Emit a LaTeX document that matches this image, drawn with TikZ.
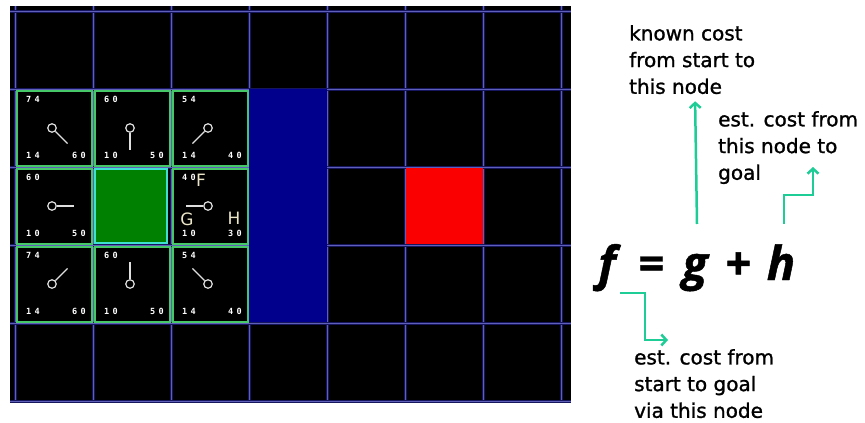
\documentclass[tikz,border=0pt]{standalone}
\usepackage{fontspec}
\setmainfont{DejaVu Sans}
\newfontfamily\formulafont{Open Sans}
\newfontfamily\pixelfont[LetterSpace=40]{DejaVu Sans Mono}
\usetikzlibrary{arrows.meta}
\definecolor{wallblue}{RGB}{0,0,140}
\definecolor{goalred}{RGB}{250,0,0}
\definecolor{startgreen}{RGB}{0,128,0}
\definecolor{startedge}{RGB}{64,224,208}
\definecolor{openedge}{RGB}{70,200,105}
\definecolor{gridglow}{RGB}{22,22,95}
\definecolor{gridblue}{RGB}{95,95,185}
\definecolor{costline}{RGB}{30,205,150}
\definecolor{tagcream}{RGB}{235,230,200}

\begin{document}
\begin{tikzpicture}[x=1pt,y=-1pt,
    gridline/.style={gridblue,line width=0.8pt,preaction={draw=gridglow,line width=3pt}},
    opencell/.style={openedge,line width=2pt},
    startcell/.style={fill=startgreen,draw=startedge,line width=2.5pt},
    digits/.style={inner sep=0,text=white,font=\pixelfont\bfseries\fontsize{8.5}{8.5}\selectfont},
    ring/.style={circle,draw=white!75!gray,line width=1.2pt,minimum size=8.5pt,inner sep=0},
    pin/.style={white!75!gray,line width=1.2pt},
    tag/.style={inner sep=0,text=tagcream,font=\fontsize{17}{17}\selectfont},
    note/.style={inner sep=0,align=left,font=\fontsize{20}{26.7}\selectfont\addfontfeature{FakeBold=1.2}},
    formula/.style={inner sep=0,anchor=base,font=\formulafont\bfseries\itshape\fontsize{47}{47}\selectfont\addfontfeature{FakeBold=1}},
    cost/.style={costline,line width=2.5pt,-{Straight Barb[length=5pt,width=11pt]}}]
    \useasboundingbox (0,0) rectangle (865,423);
    \fill[white] (0,0) rectangle (865,423);

    \fill[black] (10,6) rectangle (571,403);
    \foreach \i in {0,...,7} \draw[gridline] (15+78*\i,6) -- (15+78*\i,403);
    \foreach \j in {0,...,5} \draw[gridline] (10,11+78*\j) -- (571,11+78*\j);
    \fill[wallblue] (249,89) rectangle (327,322);
    \fill[goalred] (406,168) rectangle (483,244);
    \draw[startcell] (95,169) rectangle (167,243);

    \foreach \c/\r/\f/\g/\h/\a in {0/1/74/14/60/45, 1/1/60/10/50/90,
        2/1/54/14/40/135, 0/2/60/10/50/0, 2/2/40/10/30/180,
        0/3/74/14/60/-45, 1/3/60/10/50/-90, 2/3/54/14/40/-135}{
      \draw[opencell] (16.5+78*\c,12.5+78*\r) rectangle (91.5+78*\c,87.5+78*\r);
      \node[digits,anchor=west] (f\c\r) at (26+78*\c,21+78*\r) {\f};
      \node[digits,anchor=west] (g\c\r) at (26+78*\c,77+78*\r) {\g};
      \node[digits,anchor=east] (h\c\r) at (86+78*\c,77+78*\r) {\h};
      \node[ring] (ring\c\r) at (52+78*\c,50+78*\r) {};
      \draw[pin] (ring\c\r) -- ++(\a:22);
    }
    \node[tag] (Ftag) at (201,180) {F};
    \node[tag] (Gtag) at (187,219) {G};
    \node[tag] (Htag) at (234,218) {H};

    \node[note,anchor=north west] (known) at (629,25) {known cost\\from start to\\this node};
    \node[note,anchor=north west] (estgoal) at (718,111) {est. cost from\\this node to\\goal};
    \node[note,anchor=north west] (estvia) at (634,349) {est. cost from\\start to goal\\via this node};

    \node[formula] (fterm) at (607,280) {f};
    \node[formula] (eq) at (651,280) {=};
    \node[formula] (gterm) at (695,280) {g};
    \node[formula] (plus) at (738,280) {+};
    \node[formula] (hterm) at (781,280) {h};

    \coordinate (hgoal) at (813,167);
    \coordinate (fvia) at (668,340);
    \draw[cost,shorten >=7pt] ([xshift=2pt,yshift=56pt]gterm.base) -- (gterm.base |- known.south);
    \draw[cost] ([xshift=3pt,yshift=56pt]hterm.base) -- ++(0,-29) -| (hgoal);
    \draw[cost] ([xshift=13pt,yshift=-13pt]fterm.base) -- ++(25,0) |- (fvia);
\end{tikzpicture}
\end{document}
